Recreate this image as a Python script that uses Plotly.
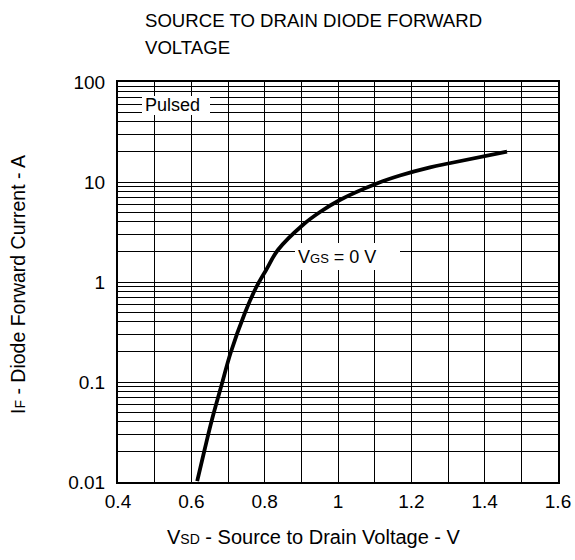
import plotly.graph_objects as go

# ---- data ----
vsd = [0.616, 0.636, 0.656, 0.684, 0.707, 0.746, 0.776, 0.804, 0.836, 0.904,
       0.951, 1.005, 1.106, 1.169, 1.251, 1.304, 1.461]
i_f = [0.0102, 0.0209, 0.0417, 0.0977, 0.195, 0.49, 0.871, 1.32, 2.09, 3.72,
       5.01, 6.61, 9.66, 11.6, 14.0, 15.4, 20.1]

x_tickvals = [0.4, 0.5, 0.6, 0.7, 0.8, 0.9, 1.0, 1.1, 1.2, 1.3, 1.4, 1.5, 1.6]
x_ticktext = ["0.4", "", "0.6", "", "0.8", "", "1", "", "1.2", "", "1.4", "", "1.6"]
y_tickvals = [0.01, 0.1, 1, 10, 100]
y_ticktext = ["0.01", "0.1", "1", "10", "100"]
y_minor = [k * 10 ** d for d in range(-2, 2) for k in range(2, 10)]

title_lines = ["SOURCE TO DRAIN DIODE FORWARD", "VOLTAGE"]
x_title = "V<span style='font-size:14px'>SD</span> - Source to Drain Voltage - V"
y_title = "I<span style='font-size:14px'>F</span> - Diode Forward Current - A"
label_pulsed = "Pulsed"
label_vgs = "V<span style='font-size:13px'>GS</span> = 0 V"

# ---- layout geometry (pixels) ----
W, H = 575, 560
L, R, T, B = 118, 558, 82, 482


def px(xp):
    return (xp - L) / (R - L)


def py(yp):
    return (B - yp) / (B - T)


FONT = "Liberation Sans, Arial, sans-serif"

fig = go.Figure()
fig.add_trace(go.Scatter(
    x=vsd, y=i_f, mode="lines",
    line=dict(color="black", width=3.8, shape="spline", smoothing=1.0),
    showlegend=False, hoverinfo="skip",
))

fig.update_layout(
    width=W, height=H,
    margin=dict(l=L, r=W - R, t=T, b=H - B, autoexpand=False),
    paper_bgcolor="white", plot_bgcolor="white",
    font=dict(family=FONT, size=19, color="black"),
    xaxis=dict(
        range=[0.4, 1.6], tickmode="array", tickvals=x_tickvals, ticktext=x_ticktext,
        showgrid=True, gridcolor="black", gridwidth=1, zeroline=False,
        showline=True, linecolor="black", linewidth=2, mirror=True,
        ticks="", ticklabelstandoff=1, tickfont=dict(size=19), automargin=False,
    ),
    yaxis=dict(
        type="log", range=[-2, 2], tickmode="array", tickvals=y_tickvals, ticktext=y_ticktext,
        showgrid=True, gridcolor="black", gridwidth=1, zeroline=False,
        showline=True, linecolor="black", linewidth=2, mirror=True,
        ticks="", ticklabelstandoff=7, tickfont=dict(size=19), automargin=False,
        minor=dict(tickmode="array", tickvals=y_minor, showgrid=True,
                   gridcolor="black", gridwidth=1, ticks=""),
    ),
    shapes=[
        dict(type="rect", xref="paper", yref="paper", x0=px(142), x1=px(210),
             y0=py(115), y1=py(96), fillcolor="white", line=dict(width=0), layer="above"),
        dict(type="rect", xref="paper", yref="paper", x0=px(295), x1=px(400),
             y0=py(270), y1=py(243), fillcolor="white", line=dict(width=0), layer="above"),
    ],
    annotations=[
        dict(text=title_lines[0], xref="paper", yref="paper", x=px(143), y=py(21),
             xanchor="left", yanchor="middle", showarrow=False, font=dict(size=18.6)),
        dict(text=title_lines[1], xref="paper", yref="paper", x=px(143), y=py(47),
             xanchor="left", yanchor="middle", showarrow=False, font=dict(size=18.6)),
        dict(text=x_title, xref="paper", yref="paper", x=px(314), y=py(537),
             xanchor="center", yanchor="middle", showarrow=False, font=dict(size=20)),
        dict(text=y_title, xref="paper", yref="paper", x=px(18), y=py(285),
             xanchor="center", yanchor="middle", showarrow=False, textangle=-90,
             font=dict(size=19.5)),
        dict(text=label_pulsed, xref="paper", yref="paper", x=px(172), y=py(105),
             xanchor="center", yanchor="middle", showarrow=False, font=dict(size=18)),
        dict(text=label_vgs, xref="paper", yref="paper", x=px(296), y=py(257),
             xanchor="left", yanchor="middle", showarrow=False, font=dict(size=18)),
    ],
)

fig.write_html("out.html", config={"displayModeBar": False},
               post_script="document.body.style.margin='0px';")
